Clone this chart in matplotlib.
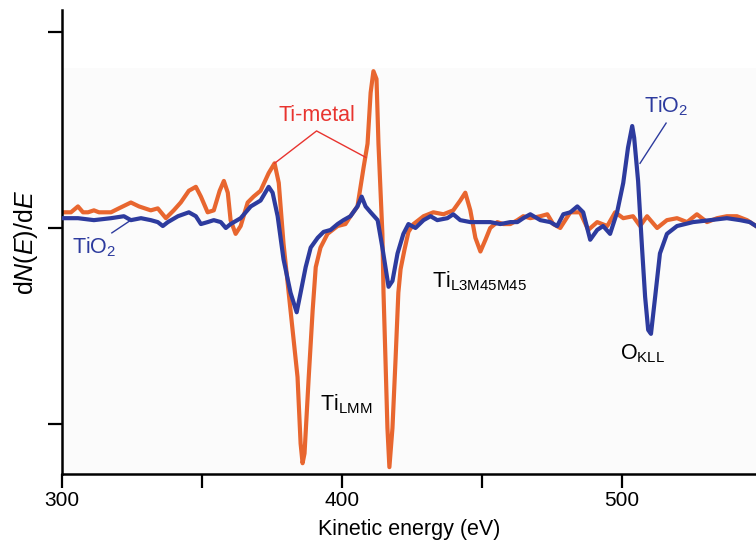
"""Auger spectra of Ti metal and TiO2 (derivative mode)."""

import matplotlib
matplotlib.use("Agg")
import matplotlib.pyplot as plt
from matplotlib.patches import Rectangle

plt.rcParams["font.family"] = ["Liberation Sans Narrow", "Liberation Sans", "DejaVu Sans"]
plt.rcParams["mathtext.fontset"] = "custom"
plt.rcParams["mathtext.rm"] = "Liberation Sans"
plt.rcParams["mathtext.it"] = "Liberation Sans:italic"

# Ti-metal spectrum (kinetic energy in eV, dN/dE in arbitrary units)
ti_energy = [
    300.7, 303.2, 305.7, 307.5, 309.3, 311.4, 313.2, 317.5, 320.3, 324.6,
    327.5, 331.7, 334.2, 337.1, 339.9, 342.4, 345.3, 347.8, 349.6, 352.0,
    354.2, 356.3, 357.8, 359.2, 360.2, 362.0, 363.8, 366.3, 368.4, 370.9,
    373.8, 375.9, 377.4, 379.1, 381.6, 384.1, 385.2, 385.9, 386.6, 388.1,
    389.5, 390.6, 392.3, 394.8, 398.4, 401.2, 403.0, 405.5, 407.7, 409.1,
    410.2, 411.2, 412.3, 413.0, 414.4, 414.8, 415.5, 416.2, 416.9, 418.0,
    419.1, 420.1, 420.9, 422.3, 423.7, 425.5, 429.1, 432.6, 436.2, 439.7,
    442.2, 444.0, 445.8, 447.6, 449.4, 451.2, 452.9, 455.4, 457.6, 460.1,
    462.6, 464.7, 467.2, 470.8, 473.3, 475.4, 477.9, 481.5, 485.0, 487.9,
    491.1, 494.7, 497.5, 500.4, 503.9, 506.4, 508.9, 512.5, 516.0, 519.6,
    523.2, 526.7, 530.3, 533.9, 537.4, 541.0, 544.6, 547.8,
]
ti_signal = [
    0.08, 0.08, 0.11, 0.08, 0.08, 0.09, 0.08, 0.08, 0.10, 0.13,
    0.11, 0.09, 0.10, 0.05, 0.09, 0.13, 0.19, 0.21, 0.16, 0.08,
    0.09, 0.19, 0.24, 0.18, 0.04, -0.03, 0.01, 0.13, 0.16, 0.19,
    0.28, 0.33, 0.23, -0.08, -0.42, -0.76, -1.10, -1.20, -1.15, -0.76,
    -0.42, -0.20, -0.10, -0.03, 0.01, 0.02, 0.06, 0.11, 0.31, 0.43,
    0.69, 0.80, 0.76, 0.43, -0.03, -0.33, -0.67, -1.02, -1.22, -1.02,
    -0.67, -0.33, -0.21, -0.11, -0.02, 0.02, 0.06, 0.08, 0.07, 0.09,
    0.14, 0.18, 0.09, -0.05, -0.12, -0.06, 0.00, 0.03, 0.02, 0.02,
    0.04, 0.06, 0.05, 0.06, 0.07, 0.02, 0.00, 0.08, 0.08, -0.01,
    0.03, 0.01, 0.08, 0.05, 0.06, 0.01, 0.06, 0.00, 0.04, 0.05,
    0.03, 0.07, 0.03, 0.05, 0.06, 0.06, 0.04, 0.01,
]

# TiO2 spectrum
tio2_energy = [
    300.7, 305.7, 311.4, 317.5, 322.1, 324.6, 328.2, 331.7, 334.2, 336.0,
    337.8, 341.4, 345.3, 347.8, 349.6, 352.0, 354.2, 356.7, 358.5, 360.2,
    363.8, 367.4, 370.9, 373.8, 375.2, 377.0, 379.1, 381.6, 383.8, 385.2,
    387.0, 388.8, 391.3, 393.4, 395.9, 398.4, 400.5, 403.0, 405.5, 407.0,
    408.4, 410.2, 412.7, 414.4, 415.5, 416.6, 418.0, 419.8, 421.9, 423.7,
    426.2, 429.1, 431.6, 434.0, 437.6, 439.7, 442.2, 445.8, 449.4, 452.9,
    456.5, 460.1, 462.6, 464.7, 467.2, 470.8, 474.3, 476.8, 479.0, 481.5,
    484.0, 486.1, 488.6, 491.1, 493.2, 495.7, 498.2, 500.4, 502.1, 503.6,
    504.3, 505.7, 507.1, 508.2, 509.3, 510.3, 511.8, 513.5, 516.0, 519.6,
    525.3, 531.4, 537.4, 542.1, 545.6, 547.8,
]
tio2_signal = [
    0.05, 0.05, 0.04, 0.05, 0.06, 0.04, 0.05, 0.04, 0.03, 0.01,
    0.03, 0.06, 0.08, 0.06, 0.02, 0.03, 0.04, 0.03, 0.00, 0.02,
    0.05, 0.11, 0.14, 0.21, 0.18, 0.06, -0.16, -0.33, -0.43, -0.33,
    -0.20, -0.10, -0.05, -0.02, -0.01, 0.02, 0.04, 0.06, 0.11, 0.16,
    0.11, 0.08, 0.04, -0.10, -0.20, -0.30, -0.27, -0.13, -0.03, 0.02,
    0.00, 0.04, 0.06, 0.04, 0.05, 0.07, 0.04, 0.03, 0.03, 0.03,
    0.02, 0.03, 0.03, 0.05, 0.07, 0.04, 0.03, 0.01, 0.07, 0.08,
    0.11, 0.08, -0.06, -0.01, 0.01, -0.03, 0.08, 0.23, 0.41, 0.52,
    0.46, 0.24, -0.10, -0.35, -0.52, -0.54, -0.35, -0.13, -0.03, 0.01,
    0.03, 0.04, 0.05, 0.04, 0.03, 0.01,
]

ORANGE = "#e8662f"
BLUE = "#2d3b9e"
RED = "#e8342f"
ANN = 15.5

fig = plt.figure(figsize=(7.56, 5.49), dpi=100)
ax = fig.add_axes([0.082, 0.1366, 0.918, 0.8452])

# faint plot-area shading
ax.add_patch(Rectangle((0, 0), 1, 0.875, transform=ax.transAxes,
                       facecolor="#fbfbfb", edgecolor="none", zorder=0))

ax.plot(ti_energy, ti_signal, color=ORANGE, linewidth=3.0, zorder=2)
ax.plot(tio2_energy, tio2_signal, color=BLUE, linewidth=3.0, zorder=3)

ax.set_xlim(300, 547.8)
ax.set_ylim(-1.255, 1.112)

ax.set_xticks([300, 350, 400, 450, 500])
ax.set_xticklabels(["300", "", "400", "", "500"])
ax.set_yticks([-1, 0, 1])
ax.set_yticklabels([])
ax.tick_params(direction="out", length=10, width=1.6, labelsize=15, pad=2)

for side in ["top", "right"]:
    ax.spines[side].set_visible(False)
for side in ["left", "bottom"]:
    ax.spines[side].set_linewidth(1.8)

ax.set_xlabel("Kinetic energy (eV)", fontsize=15.5, labelpad=7)
ax.set_ylabel(r"d$\it{N}$($\it{E}$)/d$\it{E}$", fontsize=18, labelpad=4,
              family="Liberation Sans")

# annotations
ax.text(390.9, 0.575, "Ti-metal", color=RED, fontsize=ANN, ha="center",
        va="center", family="Liberation Sans")
ax.plot([375.9, 390.9, 408.5], [0.33, 0.495, 0.36], color=RED, linewidth=1.0)

ax.text(311.5, -0.1, r"TiO$_2$", color=BLUE, fontsize=ANN, ha="center",
        va="center", family="Liberation Sans")
ax.plot([317.8, 324.6], [-0.025, 0.04], color=BLUE, linewidth=1.0)

ax.text(515.7, 0.62, r"TiO$_2$", color=BLUE, fontsize=ANN, ha="center",
        va="center", family="Liberation Sans")
ax.plot([515.7, 506.4], [0.535, 0.33], color=BLUE, linewidth=1.0)

ax.text(401.3, -0.9, r"Ti$_{\rm LMM}$", color="black", fontsize=ANN,
        ha="center", va="center", family="Liberation Sans")
ax.text(449.0, -0.27, r"Ti$_{\rm L3M45M45}$", color="black", fontsize=ANN,
        ha="center", va="center", family="Liberation Sans")
ax.text(507.3, -0.64, r"O$_{\rm KLL}$", color="black", fontsize=ANN,
        ha="center", va="center", family="Liberation Sans")

fig.savefig("out.png", dpi=100)
